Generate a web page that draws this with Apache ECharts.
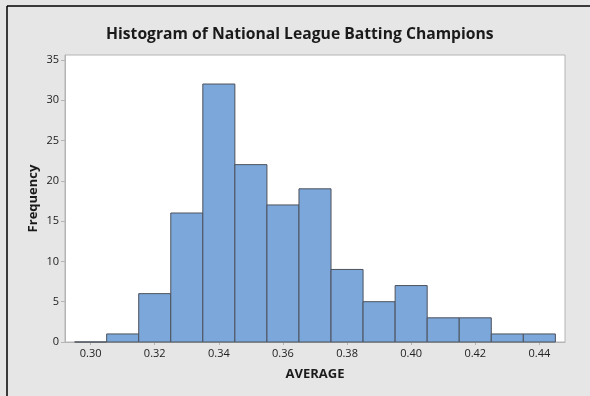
<!DOCTYPE html>
<html>
<head>
<meta charset="utf-8">
<script src="https://cdn.jsdelivr.net/npm/echarts@6/dist/echarts.min.js"></script>
<style>html,body{margin:0;padding:0;background:#e6e6e6;}#c{width:590px;height:396px;}</style>
</head>
<body>
<div id="c"></div>
<script>
var binCenters = [0.30, 0.31, 0.32, 0.33, 0.34, 0.35, 0.36, 0.37, 0.38, 0.39, 0.40, 0.41, 0.42, 0.43, 0.44];
var counts     = [0,    1,    6,    16,   32,   22,   17,   19,   9,    5,    7,    3,    3,    1,    1];
var binWidth = 0.01;
var xTicks = [0.30, 0.32, 0.34, 0.36, 0.38, 0.40, 0.42, 0.44];
var yTicks = [0, 5, 10, 15, 20, 25, 30, 35];

var data = binCenters.map(function (c, i) { return [c - binWidth / 2, c + binWidth / 2, counts[i]]; });

var chart = echarts.init(document.getElementById('c'));
var font = '"Open Sans", "Noto Sans", sans-serif';
chart.setOption({
  backgroundColor: '#e6e6e6',
  animation: false,
  title: {
    text: 'Histogram of National League Batting Champions',
    left: 101, top: 22,
    textStyle: { fontFamily: font, fontSize: 15.7, fontWeight: 'bold', color: '#1a1a1a' }
  },
  graphic: [
    { type: 'line', shape: { x1: 7, y1: 6, x2: 600, y2: 6 }, style: { stroke: '#000', lineWidth: 1.5 } },
    { type: 'line', shape: { x1: 7, y1: 6, x2: 7, y2: 400 }, style: { stroke: '#000', lineWidth: 1.5 } }
  ],
  grid: { left: 65, right: 25, top: 55, bottom: 54, show: true, backgroundColor: '#fff', borderColor: '#b4b4b4', borderWidth: 1 },
  xAxis: {
    type: 'value', min: 0.292, max: 0.448,
    name: 'AVERAGE', nameLocation: 'middle', nameGap: 26, nameMoveOverlap: false,
    nameTextStyle: { fontFamily: font, fontSize: 13, fontWeight: 'bold', color: '#1a1a1a' },
    splitLine: { show: false },
    axisLine: { show: true, lineStyle: { color: '#b4b4b4' } },
    axisTick: { show: true, length: 3, lineStyle: { color: '#b4b4b4' }, customValues: xTicks },
    axisLabel: { customValues: xTicks, margin: 6, fontFamily: font, fontSize: 11, color: '#222',
      formatter: function (v) { return v.toFixed(2); } }
  },
  yAxis: {
    type: 'value', min: 0, max: 35.6,
    name: 'Frequency', nameLocation: 'middle', nameGap: 25, nameMoveOverlap: false,
    nameTextStyle: { fontFamily: font, fontSize: 13, fontWeight: 'bold', color: '#1a1a1a' },
    splitLine: { show: false },
    axisLine: { show: true, lineStyle: { color: '#b4b4b4' } },
    axisTick: { show: true, length: 4, lineStyle: { color: '#b4b4b4' }, customValues: yTicks },
    axisLabel: { customValues: yTicks, margin: 6, fontFamily: font, fontSize: 11, color: '#222' }
  },
  series: [{
    type: 'custom',
    data: data,
    encode: { x: [0, 1], y: 2 },
    renderItem: function (params, api) {
      var p0 = api.coord([api.value(0), 0]);
      var p1 = api.coord([api.value(1), api.value(2)]);
      return {
        type: 'rect',
        shape: { x: p0[0], y: p1[1], width: p1[0] - p0[0], height: p0[1] - p1[1] },
        style: { fill: '#7ba7da', stroke: '#4d525c', lineWidth: 1 }
      };
    }
  }]
});
</script>
</body>
</html>
